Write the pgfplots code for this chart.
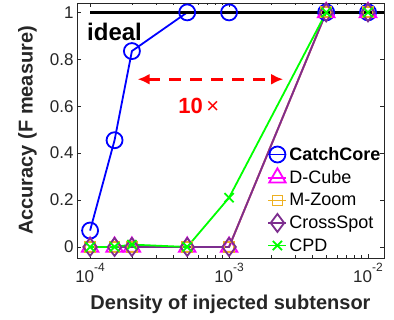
\documentclass[border=0pt]{standalone}
\usepackage{fontspec}
\setmainfont{Liberation Sans}
\usepackage{pgfplots}
\pgfplotsset{compat=1.18}
\usetikzlibrary{arrows.meta}
\definecolor{ccblue}{rgb}{0,0,1}
\definecolor{dcmag}{rgb}{1,0,1}
\definecolor{mzorange}{rgb}{0.93,0.69,0.13}
\definecolor{cspurple}{rgb}{0.49,0.18,0.56}
\definecolor{cpdgreen}{rgb}{0,1,0}
\definecolor{axgray}{rgb}{0.15,0.15,0.15}
\newcommand{\tenexp}[1]{10\raisebox{11pt}{\fontsize{12}{12}\selectfont #1}}
\begin{document}
\begin{tikzpicture}
\useasboundingbox (-77pt,-62pt) rectangle (317pt,258pt);
\begin{axis}[
  at={(0pt,0pt)}, anchor=south west,
  scale only axis, width=307pt, height=255pt,
  xmode=log, xmin=8.05e-5, xmax=1.303e-2,
  ymin=-0.047, ymax=1.04,
  xtick={1e-4,1e-3,1e-2},
  xticklabels={\tenexp{-4},\tenexp{-3},\tenexp{-2}},
  minor xtick={2e-4,3e-4,4e-4,5e-4,6e-4,7e-4,8e-4,9e-4,2e-3,3e-3,4e-3,5e-3,6e-3,7e-3,8e-3,9e-3},
  ytick={0,0.2,0.4,0.6,0.8,1},
  yticklabels={0,0.2,0.4,0.6,0.8,1},
  tick label style={font=\fontsize{17}{17}\selectfont, text=axgray},
  xticklabel style={yshift=-2pt},
  tick align=inside,
  tick style={axgray, line width=0.6pt},
  major tick length=4pt, minor tick length=2.5pt,
  axis line style={axgray, line width=0.6pt},
  xlabel={Density of injected subtensor},
  ylabel={Accuracy (F measure)},
  label style={font=\fontsize{20}{20}\selectfont\bfseries, text=axgray},
  xlabel style={at={(axis description cs:0.5,-0.2039)}, anchor=base},
  ylabel style={at={(axis description cs:-0.1446,0.5)}, anchor=base},
  legend style={draw=none, fill=none, at={(0.62,0.443)}, anchor=north west,
    font=\fontsize{18}{18}\selectfont, row sep=4.5pt, inner sep=0pt},
  legend cell align=left,
  legend image code/.code={\draw[mark repeat=2,mark phase=2,#1] plot coordinates {(0pt,0pt)(9pt,0pt)(18pt,0pt)};},
]
\addplot[ccblue, line width=1.8pt, mark=o, mark size=8pt, mark options={line width=1.8pt}]
  coordinates {(1e-4,0.07)(1.5e-4,0.455)(2e-4,0.835)(5e-4,1)(1e-3,1)(5e-3,1)(1e-2,1)};
\addlegendentry{\bfseries CatchCore}
\addplot[dcmag, line width=1.8pt, mark=triangle, mark size=9.5pt, mark options={line width=1.8pt}]
  coordinates {(1e-4,0)(1.5e-4,0)(2e-4,0)(5e-4,0)(1e-3,0)(5e-3,1)(1e-2,1)};
\addlegendentry{D-Cube}
\addplot[mzorange, line width=1.8pt, mark=square, mark size=5pt, mark options={line width=1.8pt}]
  coordinates {(1e-4,0)(1.5e-4,0)(2e-4,0)(5e-4,0)(1e-3,0)(5e-3,1)(1e-2,1)};
\addlegendentry{M-Zoom}
\addplot[cspurple, line width=1.8pt, mark=diamond, mark size=9pt, mark options={line width=1.8pt}]
  coordinates {(1e-4,0)(1.5e-4,0)(2e-4,0)(5e-4,0)(1e-3,0)(5e-3,1)(1e-2,1)};
\addlegendentry{CrossSpot}
\addplot[cpdgreen, line width=1.8pt, mark=x, mark size=6.5pt, mark options={line width=1.8pt}]
  coordinates {(1e-4,0)(1.5e-4,0)(2e-4,0.01)(5e-4,0)(1e-3,0.21)(5e-3,1)(1e-2,1)};
\addlegendentry{CPD}
\addplot[black, line width=2.6pt, forget plot] coordinates {(1e-4,1)(1.303e-2,1)};
\node[anchor=base west, inner sep=0pt, font=\fontsize{24}{24}\selectfont\bfseries] at (axis cs:0.95e-4,0.881) {ideal};
\draw[red, line width=2.6pt, dash pattern=on 12pt off 9pt, {Latex[length=12pt,width=11pt]}-{Latex[length=12pt,width=11pt]}]
  (axis cs:2.2e-4,0.715) -- (axis cs:2.45e-3,0.715);
\node[anchor=base west, inner sep=0pt, text=red, font=\fontsize{22}{22}\selectfont] at (axis cs:4.3e-4,0.57) {\textbf{10}\,×};
\end{axis}
\end{tikzpicture}
\end{document}
